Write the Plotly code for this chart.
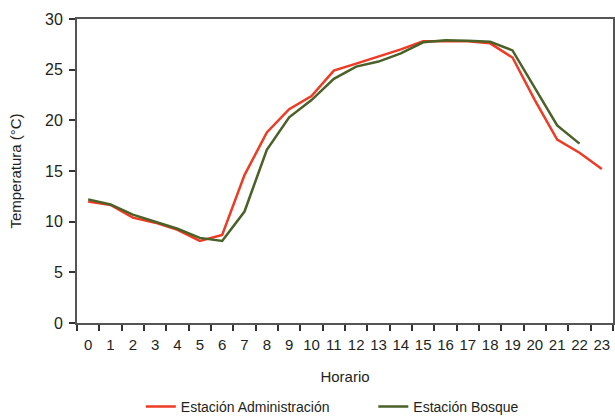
import plotly.graph_objects as go

hours = list(range(24))
hour_labels = [str(h) for h in hours]
admin = [12.0, 11.65, 10.4, 9.9, 9.2, 8.1, 8.7, 14.6, 18.8, 21.1, 22.4, 24.9, 25.6, 26.3, 27.0,
         27.8, 27.8, 27.8, 27.6, 26.2, 22.0, 18.1, 16.8, 15.2]
bosque = [12.2, 11.7, 10.7, 10.0, 9.3, 8.4, 8.1, 11.0, 17.1, 20.3, 22.0, 24.1, 25.3, 25.8, 26.6,
          27.7, 27.9, 27.85, 27.75, 26.9, 23.2, 19.5, 17.7, None]

FONT = "Liberation Sans Narrow, Arial Narrow, Liberation Sans, sans-serif"

fig = go.Figure()
fig.add_trace(go.Scatter(x=hours, y=admin, mode="lines", name="Estación Administración",
                         line=dict(color="#ee3b24", width=2.5), legend="legend"))
fig.add_trace(go.Scatter(x=hours, y=bosque, mode="lines", name="Estación Bosque",
                         line=dict(color="#4a6128", width=2.5), connectgaps=False, legend="legend2"))

leg_common = dict(orientation="h", xanchor="left", xref="container",
                  y=0.0216, yanchor="middle", yref="container",
                  font=dict(size=14), itemwidth=30, borderwidth=0, bgcolor="rgba(0,0,0,0)")

fig.update_layout(
    width=615, height=416,
    margin=dict(l=77, r=2, t=19, b=93, autoexpand=False),
    paper_bgcolor="white", plot_bgcolor="white",
    font=dict(family=FONT, size=15, color="#231f20"),
    showlegend=True,
    legend=dict(x=0.229, **leg_common),
    legend2=dict(x=0.607, **leg_common),
    xaxis=dict(
        range=[-0.5, 23.5], tickmode="array", tickvals=hours, ticktext=hour_labels,
        ticks="", showgrid=False, zeroline=False, automargin=False,
        showline=True, linecolor="#555", linewidth=2, mirror=True,
        minor=dict(ticks="outside", tick0=-0.5, dtick=1, ticklen=6, tickcolor="#333", tickwidth=1.5, showgrid=False),
        title=dict(text="Horario", font=dict(size=15), standoff=19),
        tickfont=dict(size=15), ticklabelstandoff=7,
    ),
    yaxis=dict(
        range=[0, 30], dtick=5, ticks="outside", ticklen=6, tickcolor="#333", tickwidth=1.5,
        showgrid=False, zeroline=False, automargin=False,
        showline=True, linecolor="#555", linewidth=2, mirror=True,
        title=dict(text="Temperatura (°C)", font=dict(size=15), standoff=20),
        tickfont=dict(size=16), ticklabelstandoff=3,
    ),
)

fig.write_html("out.html", config={"displayModeBar": False},
               post_script="document.body.style.margin='0';document.body.style.overflow='hidden';")
